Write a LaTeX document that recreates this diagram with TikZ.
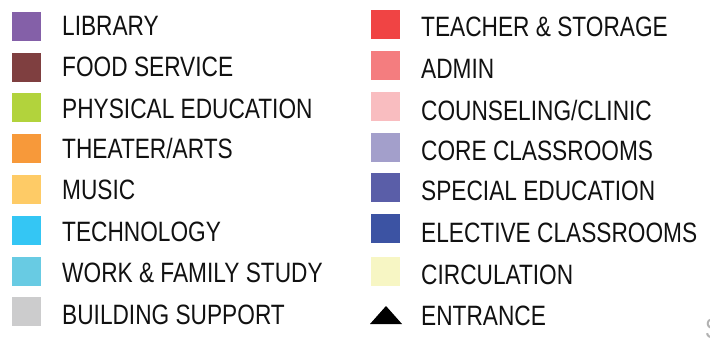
\documentclass[tikz,border=0pt]{standalone}
\usepackage{fontspec}
\setmainfont{Liberation Sans}[FakeStretch=0.81]
\usepackage{tikz}
\usetikzlibrary{shapes.geometric}

\definecolor{libraryc}{HTML}{8460A8}
\definecolor{foodc}{HTML}{7F3F40}
\definecolor{physc}{HTML}{B2D33C}
\definecolor{theaterc}{HTML}{F7993A}
\definecolor{musicc}{HTML}{FECB66}
\definecolor{techc}{HTML}{34C6F4}
\definecolor{workc}{HTML}{68CBE3}
\definecolor{supportc}{HTML}{CCCCCD}
\definecolor{teacherc}{HTML}{F04444}
\definecolor{adminc}{HTML}{F47D7F}
\definecolor{clinicc}{HTML}{F9BDC0}
\definecolor{corec}{HTML}{A39FCB}
\definecolor{specialc}{HTML}{5A5EA8}
\definecolor{electivec}{HTML}{3C53A3}
\definecolor{circc}{HTML}{F7F6C4}
\definecolor{inkc}{HTML}{111111}

\tikzset{
  swatch/.style={minimum size=29pt, inner sep=0pt, anchor=north west},
  legendtext/.style={inner sep=0pt, anchor=base west, text=inkc,
    font=\fontsize{28}{30}\selectfont}
}

\begin{document}
\begin{tikzpicture}[x=1pt,y=-1pt]
\useasboundingbox (0,0) rectangle (710,340);
% left column
\foreach \name/\col/\top/\base/\txt in {
  lib/libraryc/12/35/LIBRARY,
  food/foodc/53/76/FOOD SERVICE,
  phys/physc/93/118/PHYSICAL EDUCATION,
  theater/theaterc/134/158.3/THEATER\slash ARTS,
  music/musicc/175/199/MUSIC,
  tech/techc/216/241.7/TECHNOLOGY,
  work/workc/257/282.7/WORK \& FAMILY STUDY,
  support/supportc/297/324/BUILDING SUPPORT}{
  \node[swatch, fill=\col] (\name-box) at (12,\top) {};
  \node[legendtext] (\name-txt) at (62,\base) {\txt};
}
% right column
\foreach \name/\col/\top/\base/\txt in {
  teacher/teacherc/10/36/TEACHER \& STORAGE,
  admin/adminc/51/78.5/ADMIN,
  clinic/clinicc/92/120.5/COUNSELING\slash CLINIC,
  core/corec/133/160.7/CORE CLASSROOMS,
  special/specialc/172.7/200.7/SPECIAL EDUCATION,
  elective/electivec/213.7/242.7/ELECTIVE CLASSROOMS,
  circ/circc/257/284.3/CIRCULATION}{
  \node[swatch, fill=\col] (\name-box) at (371,\top) {};
  \node[legendtext] (\name-txt) at (421,\base) {\txt};
}
\node[legendtext] (entrance-txt) at (421,325.7) {ENTRANCE};
\fill[black] (370,324) -- (386,306) -- (402,324) -- cycle;
% cut-off letter at the edge
\node[legendtext, text=gray!60] (cut-txt) at (705,338) {S};
\end{tikzpicture}
\end{document}
